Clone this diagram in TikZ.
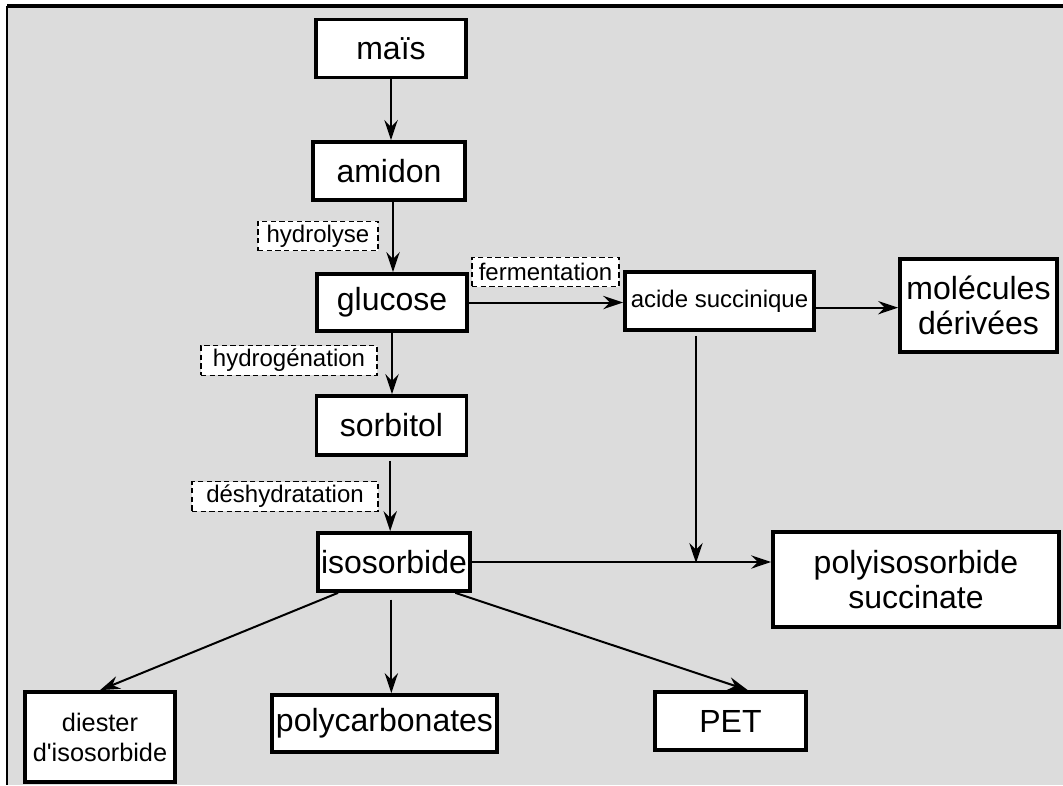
\documentclass[tikz,border=0pt]{standalone}
\usepackage{fontspec}
\setmainfont{Liberation Sans}
\usepackage{xcolor}
\usepackage{tikz}
\usetikzlibrary{arrows.meta}
\definecolor{panelgray}{RGB}{220,220,220}

\begin{document}
\begin{tikzpicture}[x=0.75pt, y=-0.75pt,
  prodbox/.style={draw, line width=2.8pt, fill=white, inner sep=0pt, minimum width=112.5pt, minimum height=43.5pt, align=center, font=\fontsize{24}{26}\selectfont},
  stepnote/.style={draw, line width=0.9pt, dash pattern=on 4pt off 2.5pt, fill=white, inner sep=0pt, minimum height=22pt, font=\fontsize{18}{20}\selectfont},
  arr/.style={-{Stealth[length=15pt, width=10pt, inset=5pt]}, line width=1.5pt}]
  \useasboundingbox (0,0) rectangle (1063,785);
  \fill[panelgray] (7,6) rectangle (1063,785);
  \draw[line width=2.6pt] (7,6) -- (1063,6);
  \draw[line width=1.5pt] (7,6) -- (7,785);

  % main chain
  \node (mais) [prodbox] at (391,48.5) {maïs};
  \node (amidon) [prodbox, minimum width=114pt] at (389,171) {amidon};
  \node (glucose) [prodbox, minimum height=42.75pt] at (392,302.5) {glucose};
  \node (sorbitol) [prodbox, minimum height=44.25pt] at (391.5,425.5) {sorbitol};
  \node (isosorbide) [prodbox, minimum width=114pt] at (394,562) {isosorbide};

  % side branches
  \node (acide) [prodbox, minimum width=141.75pt, font=\fontsize{18}{20}\selectfont] at (719.5,301) {acide succinique};
  \node (molecules) [prodbox, minimum width=117.75pt, minimum height=69.75pt] at (978.5,305.5) {molécules\\dérivées};
  \node (polyiso) [prodbox, minimum width=214.5pt, minimum height=71.25pt] at (916,579.5) {polyisosorbide\\succinate};
  \node (diester) [prodbox, minimum height=67.5pt, font=\fontsize{19}{22.5}\selectfont] at (100,737) {diester\\d\textquotesingle isosorbide};
  \node (polycarb) [prodbox, minimum width=168.75pt, minimum height=42.75pt] at (384.5,723.5) {polycarbonates};
  \node (pet) [prodbox, minimum width=113.25pt] at (730.5,721) {PET};

  % process steps
  \node (hydrolyse) [stepnote, minimum width=90pt] at (318,236) {hydrolyse};
  \node (hydrogenation) [stepnote, minimum width=132pt] at (289,360.5) {hydrogénation};
  \node (deshydratation) [stepnote, minimum width=139.5pt] at (285,496.5) {déshydratation};
  \node (fermentation) [stepnote, minimum width=110.25pt] at (545.5,272) {fermentation};

  \coordinate (join) at (696,563);

  \draw[arr] (mais.south) -- (mais.south |- amidon.north);
  \draw[arr] ([xshift=3pt]amidon.south) -- ([xshift=3pt]amidon.south |- glucose.north);
  \draw[arr] (glucose.south) -- (glucose.south |- sorbitol.north);
  \draw[arr, shorten <=3pt] ([xshift=-1pt]sorbitol.south) -- ([xshift=-1pt]sorbitol.south |- isosorbide.north);
  \draw[arr] (glucose.east) -- (glucose.east -| acide.west);
  \draw[arr] ([yshift=-5pt]acide.east) -- ([yshift=-5pt]acide.east -| molecules.west);
  \draw[arr, shorten <=3pt] (acide.south -| join) -- (join);
  \draw[arr] (isosorbide.east) -- (isosorbide.east -| polyiso.west);
  \draw[arr] ([xshift=-42pt]isosorbide.south) -- (diester.north);
  \draw[arr, shorten <=5pt] ([xshift=-2pt]isosorbide.south) -- ([xshift=-2pt]isosorbide.south |- polycarb.north);
  \draw[arr] ([xshift=46pt]isosorbide.south) -- ([xshift=13pt]pet.north);
\end{tikzpicture}
\end{document}
